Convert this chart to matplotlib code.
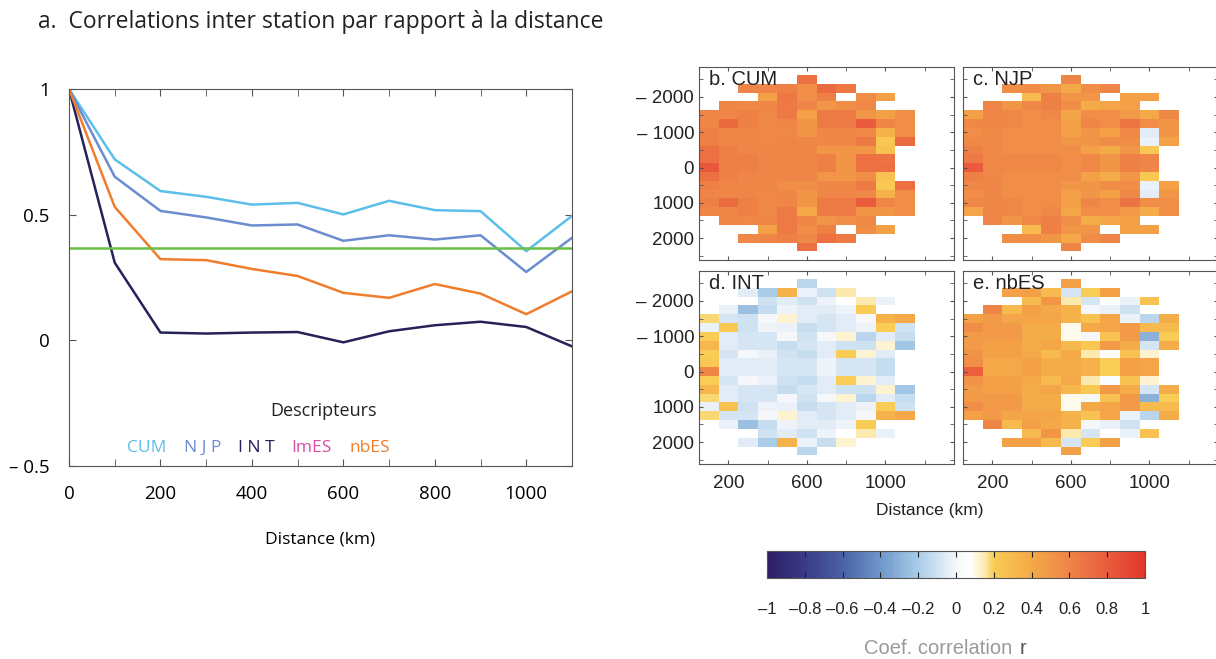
import numpy as np
import matplotlib
matplotlib.use("Agg")
import matplotlib.pyplot as plt
from matplotlib.colors import LinearSegmentedColormap
from matplotlib.ticker import FixedLocator, FixedFormatter, MultipleLocator

N = None

# ---------------- line chart data ----------------
distance = [0, 100, 200, 300, 400, 500, 600, 700, 800, 900, 1000, 1100]
cum = [1.0, 0.72, 0.594, 0.571, 0.540, 0.547, 0.501, 0.555, 0.518, 0.514, 0.355, 0.495]
njp = [1.0, 0.651, 0.515, 0.489, 0.457, 0.461, 0.396, 0.418, 0.401, 0.418, 0.272, 0.408]
int_ = [1.0, 0.309, 0.031, 0.027, 0.031, 0.033, -0.008, 0.036, 0.060, 0.074, 0.053, -0.024]
nbes = [1.0, 0.531, 0.323, 0.319, 0.284, 0.256, 0.189, 0.169, 0.224, 0.186, 0.104, 0.195]
threshold = 0.368

# ---------------- heatmap grids ----------------
col_centers = [100, 200, 300, 400, 500, 600, 700, 800, 900, 1000, 1100]
row_centers = [-2500, -2250, -2000, -1750, -1500, -1250, -1000, -750, -500, -250,
               0, 250, 500, 750, 1000, 1250, 1500, 1750, 2000, 2250]

cum_grid = [
    [N, N, N, N, N, 0.70, N, N, N, N, N],
    [N, N, 0.60, 0.60, 0.62, 0.55, 0.72, 0.66, N, N, N],
    [N, N, N, 0.45, 0.66, 0.55, 0.62, N, 0.56, 0.45, N],
    [N, 0.60, 0.58, 0.60, 0.65, 0.60, 0.50, 0.55, 0.58, N, N],
    [0.60, 0.60, 0.62, 0.58, 0.65, 0.45, 0.65, 0.65, 0.50, 0.45, 0.55],
    [0.60, 0.72, 0.62, 0.58, 0.60, 0.50, 0.65, 0.65, 0.80, 0.60, 0.55],
    [0.62, 0.60, 0.60, 0.58, 0.58, 0.50, 0.60, 0.60, 0.58, 0.35, 0.55],
    [0.62, 0.60, 0.60, 0.58, 0.60, 0.58, 0.58, 0.58, 0.65, 0.22, 0.72],
    [0.70, 0.62, 0.60, 0.60, 0.60, 0.60, 0.50, 0.50, 0.50, 0.25, N],
    [0.70, 0.62, 0.62, 0.60, 0.60, 0.60, 0.62, 0.50, 0.70, 0.68, N],
    [0.82, 0.62, 0.62, 0.60, 0.60, 0.60, 0.62, 0.50, 0.70, 0.70, N],
    [0.70, 0.62, 0.60, 0.60, 0.60, 0.60, 0.50, 0.50, 0.55, 0.25, N],
    [0.62, 0.60, 0.60, 0.60, 0.55, 0.55, 0.58, 0.58, 0.65, 0.22, 0.70],
    [0.60, 0.60, 0.60, 0.58, 0.58, 0.50, 0.60, 0.60, 0.58, 0.35, 0.55],
    [0.62, 0.72, 0.62, 0.58, 0.60, 0.50, 0.65, 0.65, 0.80, 0.60, 0.55],
    [0.60, 0.60, 0.62, 0.58, 0.65, 0.40, 0.65, 0.65, 0.50, 0.50, 0.55],
    [N, 0.60, 0.58, 0.60, 0.65, 0.60, 0.50, 0.55, 0.58, N, N],
    [N, N, N, 0.45, 0.65, 0.55, 0.62, N, 0.55, 0.45, N],
    [N, N, 0.58, 0.60, 0.62, 0.58, 0.70, 0.65, N, N, N],
    [N, N, N, N, N, 0.70, N, N, N, N, N],
]

njp_grid = [
    [N, N, N, N, N, 0.60, N, N, N, N, N],
    [N, N, 0.55, 0.55, 0.50, 0.40, 0.55, 0.60, N, N, N],
    [N, N, N, 0.30, 0.62, 0.50, 0.50, N, 0.45, 0.45, N],
    [N, 0.60, 0.50, 0.58, 0.62, 0.55, 0.38, 0.42, 0.45, N, N],
    [0.45, 0.60, 0.58, 0.55, 0.58, 0.42, 0.55, 0.55, 0.48, 0.40, 0.58],
    [0.58, 0.60, 0.58, 0.55, 0.55, 0.45, 0.60, 0.55, 0.68, 0.55, 0.50],
    [0.55, 0.58, 0.55, 0.55, 0.55, 0.45, 0.50, 0.45, 0.58, -0.05, 0.50],
    [0.58, 0.58, 0.55, 0.55, 0.55, 0.50, 0.50, 0.55, 0.55, -0.03, 0.45],
    [0.62, 0.58, 0.55, 0.55, 0.55, 0.55, 0.45, 0.38, 0.50, 0.22, N],
    [0.65, 0.58, 0.58, 0.58, 0.58, 0.55, 0.58, 0.50, 0.62, 0.60, N],
    [0.80, 0.58, 0.58, 0.58, 0.58, 0.55, 0.58, 0.50, 0.62, 0.60, N],
    [0.62, 0.58, 0.55, 0.55, 0.55, 0.55, 0.45, 0.38, 0.50, 0.22, N],
    [0.58, 0.60, 0.55, 0.55, 0.55, 0.50, 0.50, 0.55, 0.55, -0.03, 0.45],
    [0.55, 0.58, 0.55, 0.55, 0.55, 0.45, 0.50, 0.45, 0.58, -0.05, 0.50],
    [0.58, 0.60, 0.58, 0.55, 0.55, 0.45, 0.60, 0.55, 0.68, 0.55, 0.55],
    [0.42, 0.60, 0.58, 0.55, 0.58, 0.42, 0.55, 0.55, 0.48, 0.38, 0.55],
    [N, 0.60, 0.50, 0.58, 0.62, 0.55, 0.38, 0.42, 0.45, N, N],
    [N, N, N, 0.30, 0.62, 0.50, 0.50, N, 0.45, 0.45, N],
    [N, N, 0.55, 0.55, 0.50, 0.40, 0.55, 0.60, N, N, N],
    [N, N, N, N, N, 0.60, N, N, N, N, N],
]

int_grid = [
    [N, N, N, N, N, -0.15, N, N, N, N, N],
    [N, N, -0.05, -0.20, 0.35, -0.03, -0.10, 0.15, N, N, N],
    [N, N, N, -0.10, -0.05, -0.10, -0.02, N, 0.15, -0.03, N],
    [N, -0.03, -0.25, -0.12, -0.02, -0.05, -0.05, -0.02, 0.20, N, N],
    [0.18, -0.08, -0.10, 0.00, 0.12, -0.05, -0.08, -0.05, 0.00, 0.35, 0.40],
    [-0.03, 0.22, -0.10, -0.02, -0.03, -0.12, -0.08, -0.05, -0.02, 0.20, -0.10],
    [0.20, -0.05, -0.08, -0.08, 0.00, -0.10, 0.00, 0.12, -0.15, -0.05, -0.12],
    [0.32, -0.05, -0.08, -0.08, -0.12, -0.08, -0.05, -0.10, -0.10, 0.12, -0.22],
    [0.20, -0.08, 0.00, -0.03, -0.10, -0.12, -0.05, 0.20, 0.12, -0.05, N],
    [0.22, -0.05, -0.05, -0.05, -0.08, -0.08, -0.02, -0.08, -0.08, -0.12, N],
    [0.60, -0.05, -0.05, -0.05, -0.08, -0.08, -0.02, -0.08, -0.08, -0.12, N],
    [0.20, -0.08, 0.00, -0.03, -0.10, -0.12, -0.05, 0.20, 0.12, -0.05, N],
    [0.32, -0.05, -0.08, -0.08, -0.12, -0.08, -0.05, -0.10, -0.10, 0.12, -0.22],
    [0.18, -0.05, -0.08, -0.08, 0.00, -0.10, 0.00, 0.12, -0.15, -0.05, -0.12],
    [-0.03, 0.25, -0.10, -0.02, -0.03, -0.12, -0.08, -0.05, -0.02, 0.20, -0.10],
    [0.18, -0.08, -0.08, 0.00, 0.12, -0.05, -0.08, -0.05, 0.00, 0.35, 0.40],
    [N, -0.03, -0.25, -0.12, -0.02, -0.05, -0.05, -0.02, 0.20, N, N],
    [N, N, N, -0.10, -0.05, -0.10, -0.02, N, 0.15, -0.03, N],
    [N, N, -0.05, -0.20, 0.35, -0.03, -0.12, 0.12, N, N, N],
    [N, N, N, N, N, -0.15, N, N, N, N, N],
]

nbes_grid = [
    [N, N, N, N, N, 0.45, N, N, N, N, N],
    [N, N, 0.45, 0.45, 0.30, -0.08, 0.20, 0.45, N, N, N],
    [N, N, N, 0.30, 0.50, 0.15, -0.08, N, -0.03, 0.25, N],
    [N, 0.60, 0.30, 0.45, 0.40, 0.35, 0.00, -0.03, -0.10, N, N],
    [0.45, 0.48, 0.42, 0.42, 0.42, 0.35, 0.25, 0.42, -0.03, -0.15, 0.38],
    [0.55, 0.48, 0.48, 0.38, 0.38, 0.10, 0.40, 0.42, 0.48, 0.30, 0.30],
    [0.48, 0.48, 0.48, 0.38, 0.38, 0.10, 0.00, 0.25, 0.48, -0.30, 0.20],
    [0.48, 0.45, 0.45, 0.38, 0.42, 0.32, 0.22, 0.48, 0.38, -0.08, 0.38],
    [0.52, 0.45, 0.45, 0.40, 0.30, 0.40, 0.15, 0.05, 0.25, 0.12, N],
    [0.55, 0.40, 0.40, 0.45, 0.38, 0.38, 0.35, 0.20, 0.45, 0.42, N],
    [0.78, 0.40, 0.40, 0.45, 0.38, 0.38, 0.35, 0.20, 0.45, 0.42, N],
    [0.52, 0.45, 0.45, 0.40, 0.30, 0.40, 0.15, 0.05, 0.25, 0.12, N],
    [0.48, 0.45, 0.45, 0.38, 0.42, 0.32, 0.22, 0.48, 0.38, -0.08, 0.38],
    [0.48, 0.48, 0.48, 0.38, 0.38, 0.10, 0.00, 0.25, 0.48, -0.30, 0.20],
    [0.55, 0.48, 0.48, 0.38, 0.38, 0.10, 0.40, 0.42, 0.48, 0.30, 0.30],
    [0.45, 0.48, 0.42, 0.42, 0.42, 0.35, 0.25, 0.42, -0.03, -0.15, 0.38],
    [N, 0.60, 0.30, 0.45, 0.40, 0.35, 0.00, -0.03, -0.10, N, N],
    [N, N, N, 0.30, 0.50, 0.15, -0.08, N, -0.03, 0.25, N],
    [N, N, 0.45, 0.45, 0.30, -0.08, 0.20, 0.45, N, N, N],
    [N, N, N, N, N, 0.45, N, N, N, N, N],
]

panel_titles = ["b. CUM", "c. NJP", "d. INT", "e. nbES"]
legend_labels = ["CUM", "N J P", "I N T", "ImES", "nbES"]
cbar_ticks = [-1, -0.8, -0.6, -0.4, -0.2, 0, 0.2, 0.4, 0.6, 0.8, 1]
cbar_ticklabels = ["\u20131", "\u20130.8", "\u20130.6", "\u20130.4", "\u20130.2", "0",
                   "0.2", "0.4", "0.6", "0.8", "1"]

# ---------------- style ----------------
c_cum = "#5bbfea"
c_njp = "#6b8dcf"
c_int = "#25225a"
c_imes = "#d94ea6"
c_nbes = "#f07d2c"
c_green = "#6cbf46"
spine_col = "#555555"

cmap = LinearSegmentedColormap.from_list("corr", [
    (0.00, "#2d1e66"), (0.10, "#3a3b88"), (0.20, "#4a62a6"), (0.30, "#6f98cb"),
    (0.40, "#a9cce8"), (0.50, "#f4f7fb"), (0.54, "#ffffff"), (0.58, "#fbe7a6"),
    (0.60, "#f8cc55"), (0.70, "#f4a947"), (0.80, "#ef8547"), (0.90, "#e95c3c"),
    (1.00, "#e2362c")])

W, H = 1216, 659
fig = plt.figure(figsize=(W / 100, H / 100), dpi=100)
fig.patch.set_facecolor("white")

def fr(left, top, right, bottom):
    return [left / W, 1 - bottom / H, (right - left) / W, (bottom - top) / H]

def fx(px):
    return px / W

def fy(py):
    return 1 - py / H

LF = ["Open Sans", "DejaVu Sans"]
HF = ["Liberation Sans", "DejaVu Sans"]

fig.text(fx(38), fy(22), "a.  Correlations inter station par rapport \u00e0 la distance",
         fontsize=16.5, family=LF, color="#222222", va="center", ha="left")

# ---------------- line chart ----------------
ax = fig.add_axes(fr(69, 89, 572, 466))
ax.plot(distance, cum, color=c_cum, lw=1.8)
ax.plot(distance, njp, color=c_njp, lw=1.8)
ax.plot(distance, int_, color=c_int, lw=1.8)
ax.plot(distance, nbes, color=c_nbes, lw=1.8)
ax.axhline(threshold, color=c_green, lw=1.8)
ax.set_xlim(0, 1100)
ax.set_ylim(-0.5, 1.0)
ax.xaxis.set_major_locator(FixedLocator([0, 200, 400, 600, 800, 1000]))
ax.xaxis.set_minor_locator(MultipleLocator(100))
ax.yaxis.set_major_locator(FixedLocator([-0.5, 0, 0.5, 1]))
ax.yaxis.set_major_formatter(FixedFormatter(["\u2013 0.5", "0", "0.5", "1"]))
ax.tick_params(which="both", direction="in", top=True, right=True, length=5,
               color=spine_col, labelsize=13.5)
ax.tick_params(axis="x", pad=14)
ax.tick_params(axis="y", pad=14)
for lab in ax.get_xticklabels() + ax.get_yticklabels():
    lab.set_family(LF)
for s in ax.spines.values():
    s.set_color(spine_col)
ax.set_xlabel("Distance (km)", fontsize=12.5, family=LF, labelpad=20)

fig.text(fx(323), fy(411), "Descripteurs", fontsize=13, family=LF, ha="center",
         va="center", color="#222222")
leg_x = [147, 203, 256, 311, 370]
leg_c = [c_cum, c_njp, c_int, c_imes, c_nbes]
for xx, lab, cc in zip(leg_x, legend_labels, leg_c):
    fig.text(fx(xx), fy(448), lab, fontsize=12.5, family=LF, ha="center",
             va="center", color=cc)

# ---------------- heatmaps ----------------
x_edges = np.arange(50, 1151, 100)
y_edges = np.arange(-2625, 2376, 250)
grids = [cum_grid, njp_grid, int_grid, nbes_grid]
boxes = [fr(699, 67, 954, 260), fr(963, 67, 1218, 260),
         fr(699, 271, 954, 464), fr(963, 271, 1218, 464)]
mesh = None
for i, (g, box, title) in enumerate(zip(grids, boxes, panel_titles)):
    hx = fig.add_axes(box)
    arr = np.array([[np.nan if v is None else v for v in row] for row in g], dtype=float)
    mesh = hx.pcolormesh(x_edges, y_edges, np.ma.masked_invalid(arr), cmap=cmap,
                         vmin=-1, vmax=1, shading="flat")
    hx.set_xlim(50, 1350)
    hx.set_ylim(2620, -2850)
    hx.xaxis.set_major_locator(FixedLocator([200, 600, 1000]))
    hx.xaxis.set_minor_locator(FixedLocator([400, 800, 1200]))
    hx.yaxis.set_major_locator(FixedLocator([-2000, -1000, 0, 1000, 2000]))
    hx.yaxis.set_major_formatter(FixedFormatter(["\u2013 2000", "\u2013 1000", "0", "1000", "2000"]))
    hx.yaxis.set_minor_locator(FixedLocator([-2500, -1500, -500, 500, 1500, 2500]))
    hx.tick_params(which="both", direction="in", top=True, right=True, length=3,
                   color=spine_col, labelsize=13.5)
    hx.tick_params(axis="x", pad=8)
    if i in (1, 3):
        hx.tick_params(labelleft=False)
    if i in (0, 1):
        hx.tick_params(labelbottom=False)
    for lab in hx.get_xticklabels() + hx.get_yticklabels():
        lab.set_family(HF)
        lab.set_color("#222222")
    for s in hx.spines.values():
        s.set_color(spine_col)
    hx.text(0.04, 0.985, title, transform=hx.transAxes, fontsize=14.5, family=HF,
            ha="left", va="top", color="#222222")

fig.text(fx(930), fy(511), "Distance (km)", fontsize=12.5, family=HF,
         ha="center", va="center", color="#222222")

# ---------------- colorbar ----------------
cax = fig.add_axes(fr(767, 551, 1145, 578))
cb = fig.colorbar(mesh, cax=cax, orientation="horizontal")
cb.set_ticks(cbar_ticks)
cb.set_ticklabels(cbar_ticklabels)
cax.tick_params(direction="in", length=4, top=True, bottom=True, color="#222222",
                labelsize=12, pad=17)
for lab in cax.get_xticklabels():
    lab.set_family(HF)
    lab.set_color("#222222")
cb.outline.set_edgecolor(spine_col)
fig.text(fx(1018), fy(648), "Coef. correlation ", fontsize=14.5, family=HF,
         ha="right", va="center", color="#9a9a9a")
fig.text(fx(1020), fy(648), "r", fontsize=14.5, family=HF,
         ha="left", va="center", color="#555555")

fig.savefig("out.png", dpi=100)
